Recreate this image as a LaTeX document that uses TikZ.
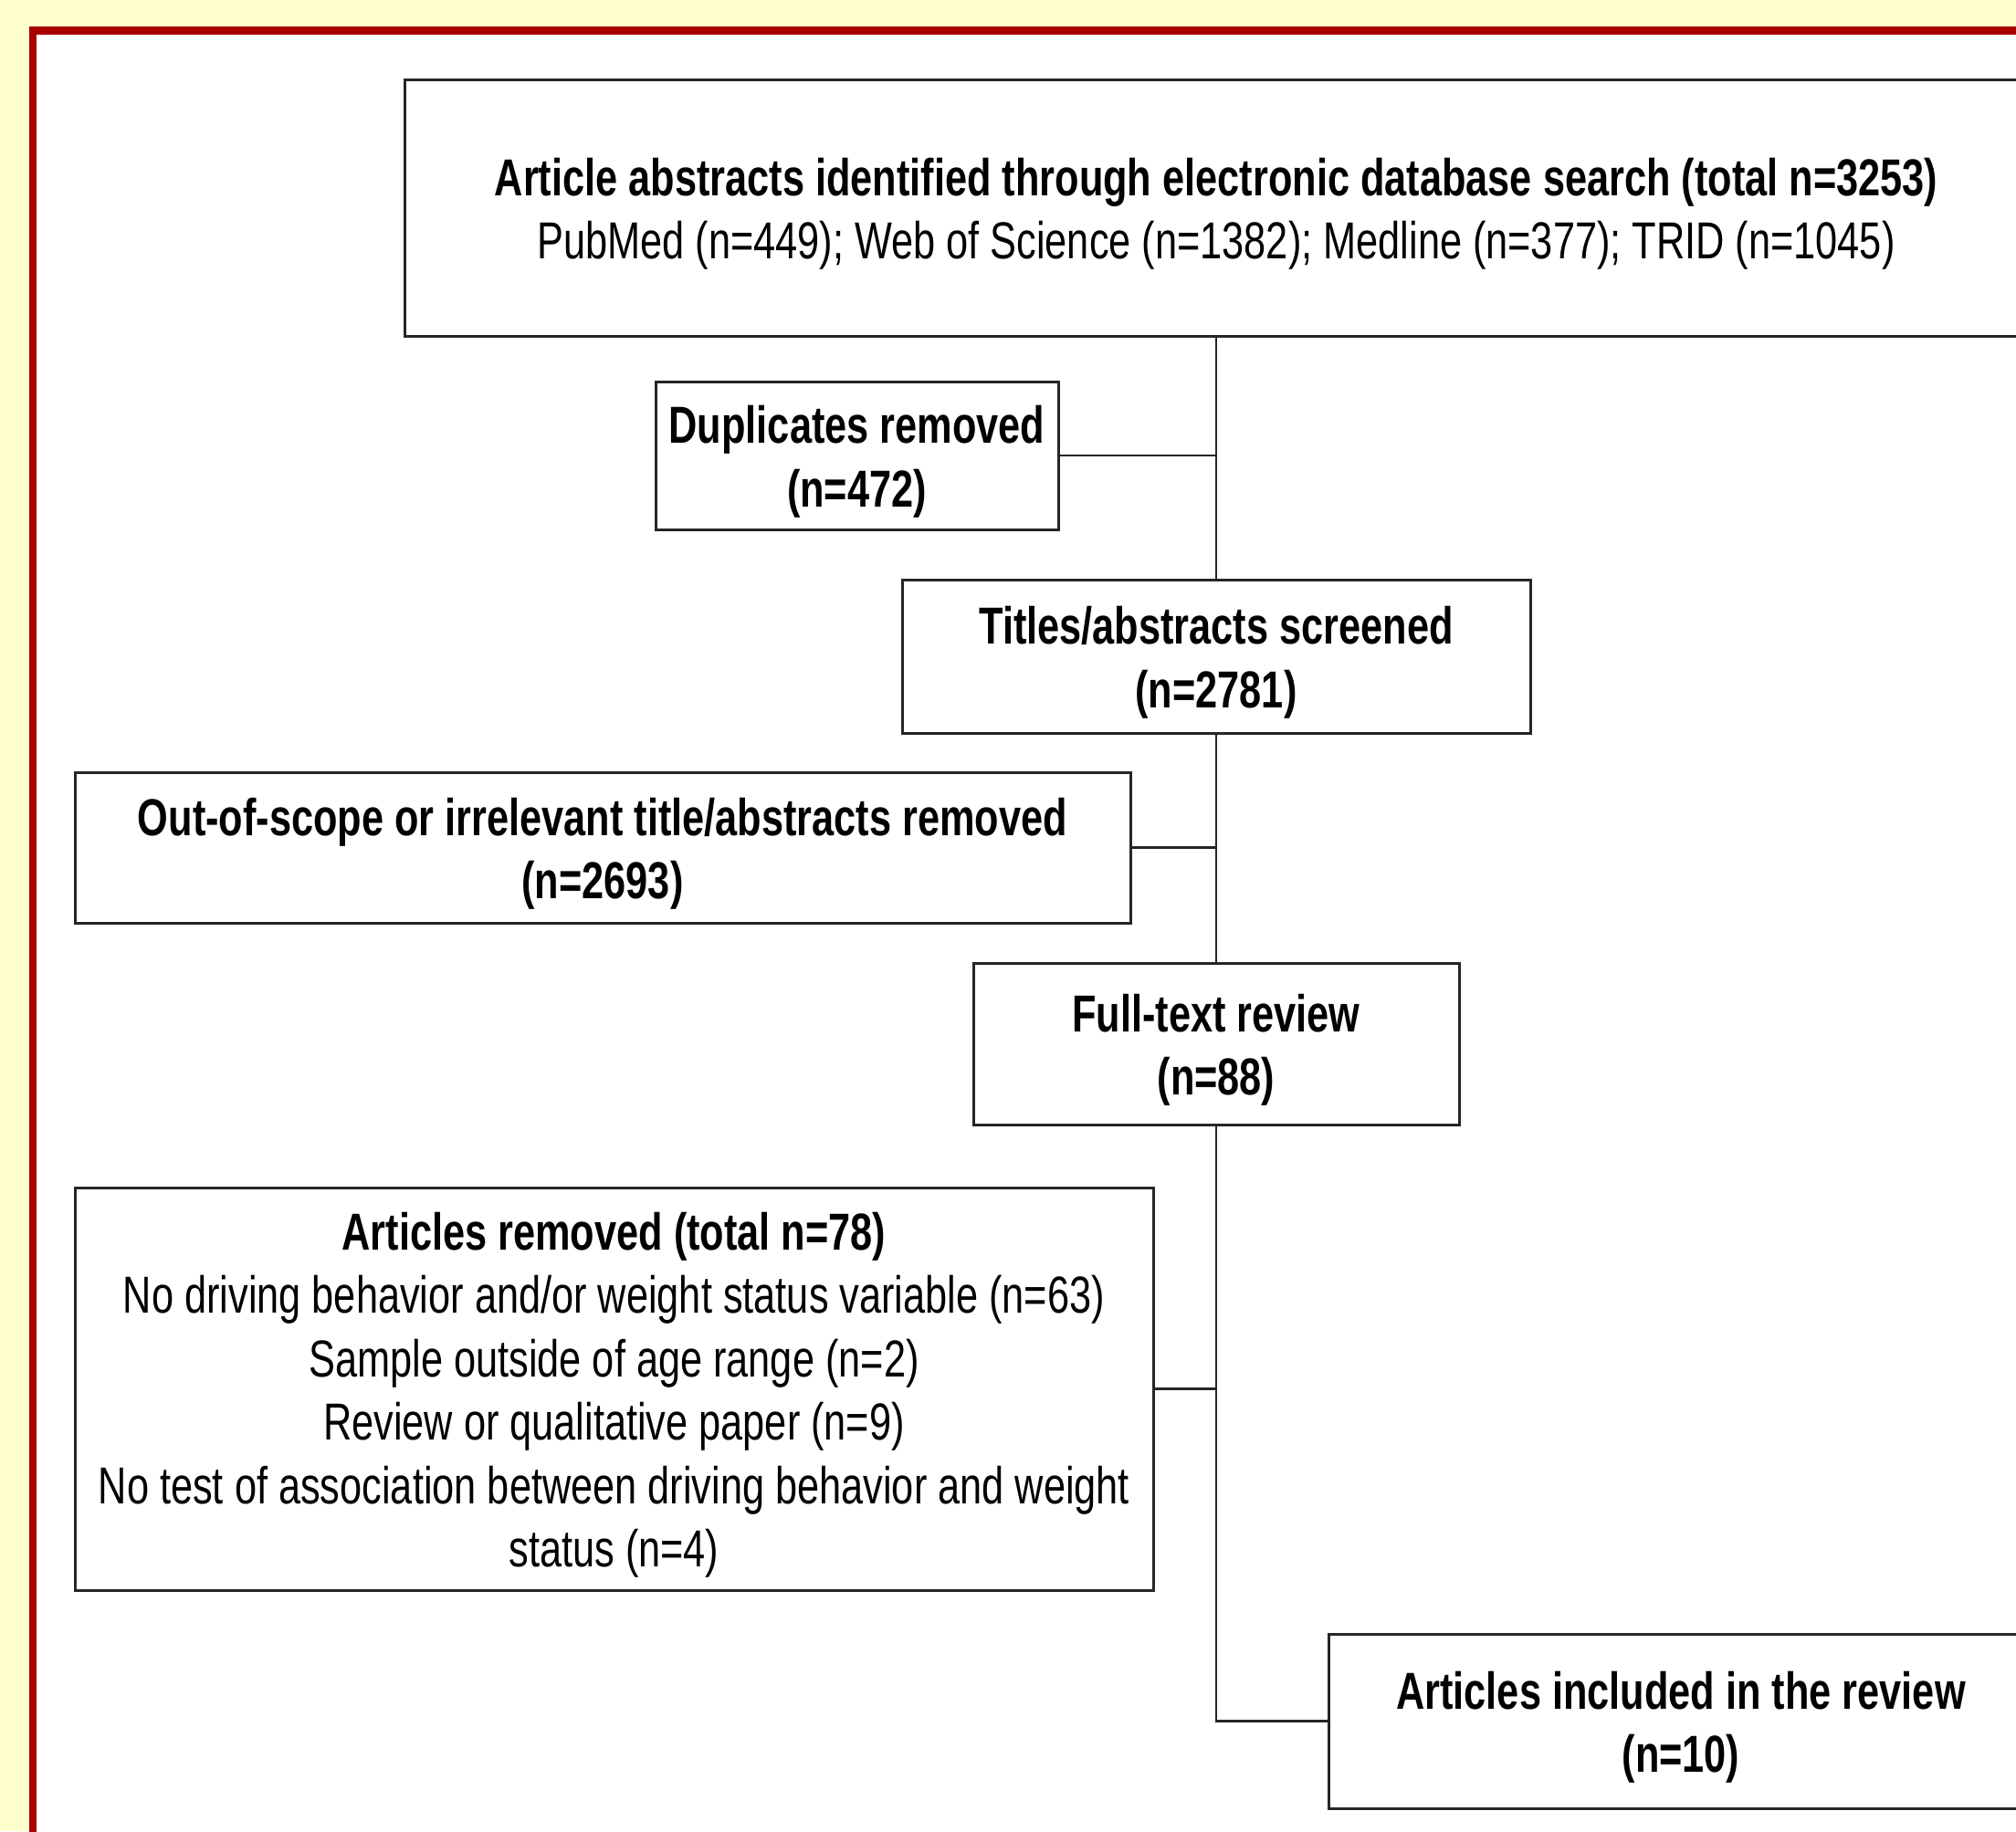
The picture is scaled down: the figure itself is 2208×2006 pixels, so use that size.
\documentclass[tikz,border=0pt]{standalone}
\usepackage{fontspec}
\setmainfont{Liberation Sans}[FakeStretch=0.76]
\definecolor{bgyellow}{HTML}{FFFFCC}
\definecolor{framered}{HTML}{AA0000}
\newcommand{\topstrut}{\rule{0pt}{55pt}}
\begin{document}
\begin{tikzpicture}[x=1pt,y=-1pt,
  box/.style={draw=black!85,line width=3pt,fill=white,inner sep=0pt,align=center,
    font=\fontsize{57}{69.5}\selectfont},
  link/.style={draw=black!85,line width=2.6pt}]
\useasboundingbox (0,0) rectangle (2208,2006);
\clip (0,0) rectangle (2208,2006);
\fill[bgyellow] (0,0) rectangle (2208,2006);
\draw[framered,line width=8.5pt,fill=white] (36,33.5) rectangle (2400,2200);
% nodes
\node[box,minimum width=1778pt,minimum height=281pt] (top) at (1332,227.5)
  {\topstrut\textbf{Article abstracts identified through electronic database search (total n=3253)}\\
   PubMed (n=449); Web of Science (n=1382); Medline (n=377); TRID (n=1045)};
\node[box,minimum width=441pt,minimum height=162pt] (dup) at (938.5,499)
  {\topstrut\textbf{Duplicates removed}\\\textbf{(n=472)}};
\node[box,minimum width=688pt,minimum height=168pt] (titles) at (1332,719)
  {\topstrut\textbf{Titles/abstracts screened}\\\textbf{(n=2781)}};
\node[box,minimum width=1156pt,minimum height=165pt] (scope) at (660,928.5)
  {\topstrut\textbf{Out-of-scope or irrelevant title/abstracts removed}\\\textbf{(n=2693)}};
\node[box,minimum width=532pt,minimum height=177pt] (full) at (1332,1143.5)
  {\topstrut\textbf{Full-text review}\\\textbf{(n=88)}};
\node[box,minimum width=1181pt,minimum height=441pt] (removed) at (672.5,1521.5)
  {\topstrut\textbf{Articles removed (total n=78)}\\
   No driving behavior and/or weight status variable (n=63)\\
   Sample outside of age range (n=2)\\
   Review or qualitative paper (n=9)\\
   No test of association between driving behavior and weight\\
   status (n=4)};
\node[box,minimum width=772pt,minimum height=191pt] (incl) at (1841,1885.5)
  {\topstrut\textbf{Articles included in the review}\\\textbf{(n=10)}};
% connectors
\draw[link] (top.south) -- (titles.north);
\draw[link] (titles.south) -- (full.north);
\draw[link] (full.south) |- (incl.west);
\draw[link] (dup.east) -- (dup.east -| top.south);
\draw[link] (scope.east) -- (scope.east -| titles.south);
\draw[link] (removed.east) -- (removed.east -| full.south);
\end{tikzpicture}
\end{document}
